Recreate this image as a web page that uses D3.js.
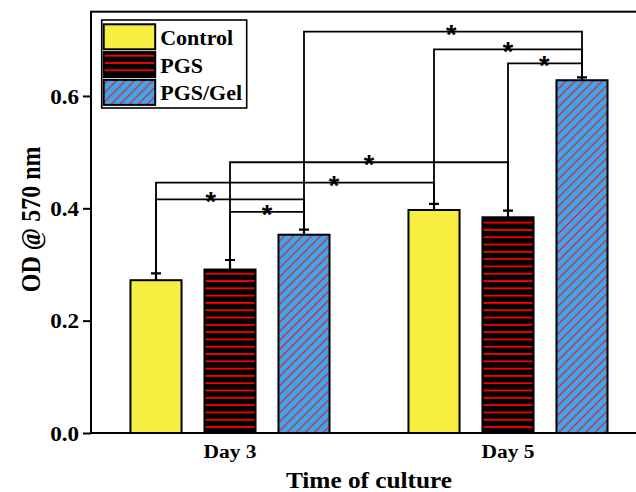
<!DOCTYPE html>
<html>
<head>
<meta charset="utf-8">
<script src="https://cdnjs.cloudflare.com/ajax/libs/d3/7.8.5/d3.min.js"></script>
<style>
body{margin:0;background:#fff;}
#OD_CHART text{font-family:"Liberation Serif","Times New Roman",serif;font-weight:bold;fill:#000;}
</style>
</head>
<body>
<svg id="OD_CHART" width="636" height="492"></svg>
<script>
/******** data ********/
var days = ["Day 3", "Day 5"];
var groups = ["Control", "PGS", "PGS/Gel"];
var controlOD = [0.272, 0.397],
	controlErr = [0.012, 0.011];
var pgsOD = [0.291, 0.384],
	pgsErr = [0.017, 0.012];
var pgsGelOD = [0.353, 0.628],
	pgsGelErr = [0.009, 0.005];
var yTicks = [0.0, 0.2, 0.4, 0.6];

// significance brackets: [day, group] -> [day, group], bracket height in OD
var sigFrom = [[0, 0], [0, 1], [0, 0], [0, 1], [0, 2], [1, 0], [1, 1]];
var sigTo = [[0, 2], [0, 2], [1, 0], [1, 1], [1, 2], [1, 2], [1, 2]];
var sigLevel = [0.416, 0.3935, 0.4456, 0.482, 0.7145, 0.683, 0.658];

/******** layout ********/
var starAt = [0.37, 0.5, 0.64, 0.5, 0.53, 0.5, 0.49];
var stretch = "scale(1.1,1)";
var plotL = 91, plotR = 647, plotT = 11.7, plotB = 433;

var odTable = [controlOD, pgsOD, pgsGelOD],
	errTable = [controlErr, pgsErr, pgsGelErr];

var svg = d3.select("#OD_CHART");

var x0 = d3.scaleBand().domain(days).range([plotL, plotR]).padding(0);
var x1 = d3.scaleBand().domain(groups).range([-111, 111]).paddingInner(0.31).paddingOuter(0.155);
var y = d3.scaleLinear().domain([0, 0.75]).range([plotB, plotT]);

var colors = {"Control": "#f6ef42", "PGS": "url(#pgsPat)", "PGS/Gel": "url(#gelPat)"};

// fill patterns
var defs = svg.append("defs");
var pgsPat = defs.append("pattern")
	.attr("id", "pgsPat")
	.attr("patternUnits", "userSpaceOnUse")
	.attr("width", 8).attr("height", 7.3);
pgsPat.append("rect").attr("width", 8).attr("height", 7.3).attr("fill", "#000");
pgsPat.append("line").attr("x1", 0).attr("x2", 8).attr("y1", 3.6).attr("y2", 3.6)
	.attr("stroke", "#ff0000").attr("stroke-width", 1.8);

var gelPat = defs.append("pattern")
	.attr("id", "gelPat")
	.attr("patternUnits", "userSpaceOnUse")
	.attr("width", 6.4).attr("height", 10)
	.attr("patternTransform", "rotate(45)");
gelPat.append("rect").attr("width", 6.4).attr("height", 10).attr("fill", "#3aa7ee");
gelPat.append("line").attr("x1", 3.2).attr("x2", 3.2).attr("y1", 0).attr("y2", 10)
	.attr("stroke", "#ff1010").attr("stroke-width", 1.15);

function barX(d, g) { return x0(days[d]) + x0.bandwidth() / 2 + x1(groups[g]); }
function barMid(d, g) { return barX(d, g) + x1.bandwidth() / 2; }
function errTop(d, g) { return y(odTable[g][d] + errTable[g][d]); }

/******** bars ********/
var barData = [];
days.forEach(function(day, d) {
	groups.forEach(function(grp, g) {
		barData.push({d: d, g: g, v: odTable[g][d], e: errTable[g][d]});
	});
});

var barG = svg.append("g").attr("class", "bars");
barG.selectAll("rect")
	.data(barData)
	.enter().append("rect")
	.attr("x", function(b) { return barX(b.d, b.g); })
	.attr("y", function(b) { return y(b.v); })
	.attr("width", x1.bandwidth())
	.attr("height", function(b) { return y(0) - y(b.v); })
	.attr("fill", function(b) { return colors[groups[b.g]]; })
	.attr("stroke", "#000")
	.attr("stroke-width", 2);

// error bars (upper only)
var errG = svg.append("g").attr("class", "err");
errG.selectAll("path")
	.data(barData)
	.enter().append("path")
	.attr("d", function(b) {
		var cx = barMid(b.d, b.g), ty = y(b.v + b.e);
		return "M" + cx + "," + y(b.v) + "V" + ty + "M" + (cx - 5) + "," + ty + "H" + (cx + 5);
	})
	.attr("fill", "none")
	.attr("stroke", "#000")
	.attr("stroke-width", 2.2);

/******** significance ********/
var sigG = svg.append("g").attr("class", "sig");
sigFrom.forEach(function(a, i) {
	var b = sigTo[i],
		xa = barMid(a[0], a[1]),
		xb = barMid(b[0], b[1]),
		ly = y(sigLevel[i]);
	sigG.append("path")
		.attr("d", "M" + xa + "," + errTop(a[0], a[1]) + "V" + ly + "H" + xb + "V" + errTop(b[0], b[1]))
		.attr("fill", "none")
		.attr("stroke", "#000")
		.attr("stroke-width", 1.8);
	sigG.append("text")
		.attr("x", xa + starAt[i] * (xb - xa))
		.attr("y", ly + 12)
		.attr("text-anchor", "middle")
		.style("font-family", "'Liberation Sans', Arial, sans-serif")
		.style("font-weight", "bold")
		.style("font-size", "27px")
		.text("*");
});

/******** frame + axes ********/
svg.append("rect")
	.attr("x", plotL).attr("y", plotT)
	.attr("width", plotR - plotL).attr("height", plotB - plotT)
	.attr("fill", "none").attr("stroke", "#000").attr("stroke-width", 2);

var yAxis = svg.append("g")
	.attr("class", "y axis")
	.attr("transform", "translate(" + plotL + ",0)")
	.call(d3.axisLeft(y).tickValues(yTicks).tickFormat(d3.format(".1f")).tickSize(8).tickSizeOuter(0));
yAxis.select(".domain").remove();
yAxis.selectAll("line").attr("stroke-width", 2);
yAxis.selectAll("text")
	.attr("x", 0)
	.attr("dy", "0.34em")
	.attr("transform", "translate(-12,0) " + stretch)
	.style("font-size", "21px");

var xAxis = svg.append("g")
	.attr("class", "x axis")
	.attr("transform", "translate(0," + plotB + ")")
	.call(d3.axisBottom(x0).tickSize(0).tickSizeOuter(0));
xAxis.select(".domain").remove();
xAxis.selectAll("text")
	.attr("y", 0).attr("dy", 0)
	.attr("transform", "translate(0,25) " + stretch)
	.style("font-size", "19.5px");

svg.append("text")
	.attr("text-anchor", "middle")
	.attr("transform", "translate(" + ((plotL + plotR) / 2) + ",488) " + stretch)
	.style("font-size", "23px")
	.text("Time of culture");

svg.append("text")
	.attr("text-anchor", "middle")
	.attr("transform", "translate(40," + ((plotT + plotB) / 2 - 3) + ") " + stretch + " rotate(-90)")
	.style("font-size", "24px")
	.text("OD @ 570 nm");

/******** legend ********/
var legend = svg.append("g")
	.attr("class", "legend")
	.attr("transform", "translate(101.7,20)");
legend.append("rect")
	.attr("width", 145).attr("height", 88)
	.attr("fill", "#fff").attr("stroke", "#000").attr("stroke-width", 1.6);
var legItem = legend.selectAll(".leg-item")
	.data(groups)
	.enter().append("g")
	.attr("class", "leg-item")
	.attr("transform", function(g, i) { return "translate(2," + (4.3 + i * 27.8) + ")"; });
legItem.append("rect")
	.attr("width", 51.5).attr("height", 25)
	.attr("fill", function(g) { return colors[g]; })
	.attr("stroke", "#000").attr("stroke-width", 2);
legItem.append("text")
	.attr("transform", "translate(56.5,20.5) " + stretch)
	.style("font-size", "20px")
	.text(function(g) { return g; });
</script>
</body>
</html>
